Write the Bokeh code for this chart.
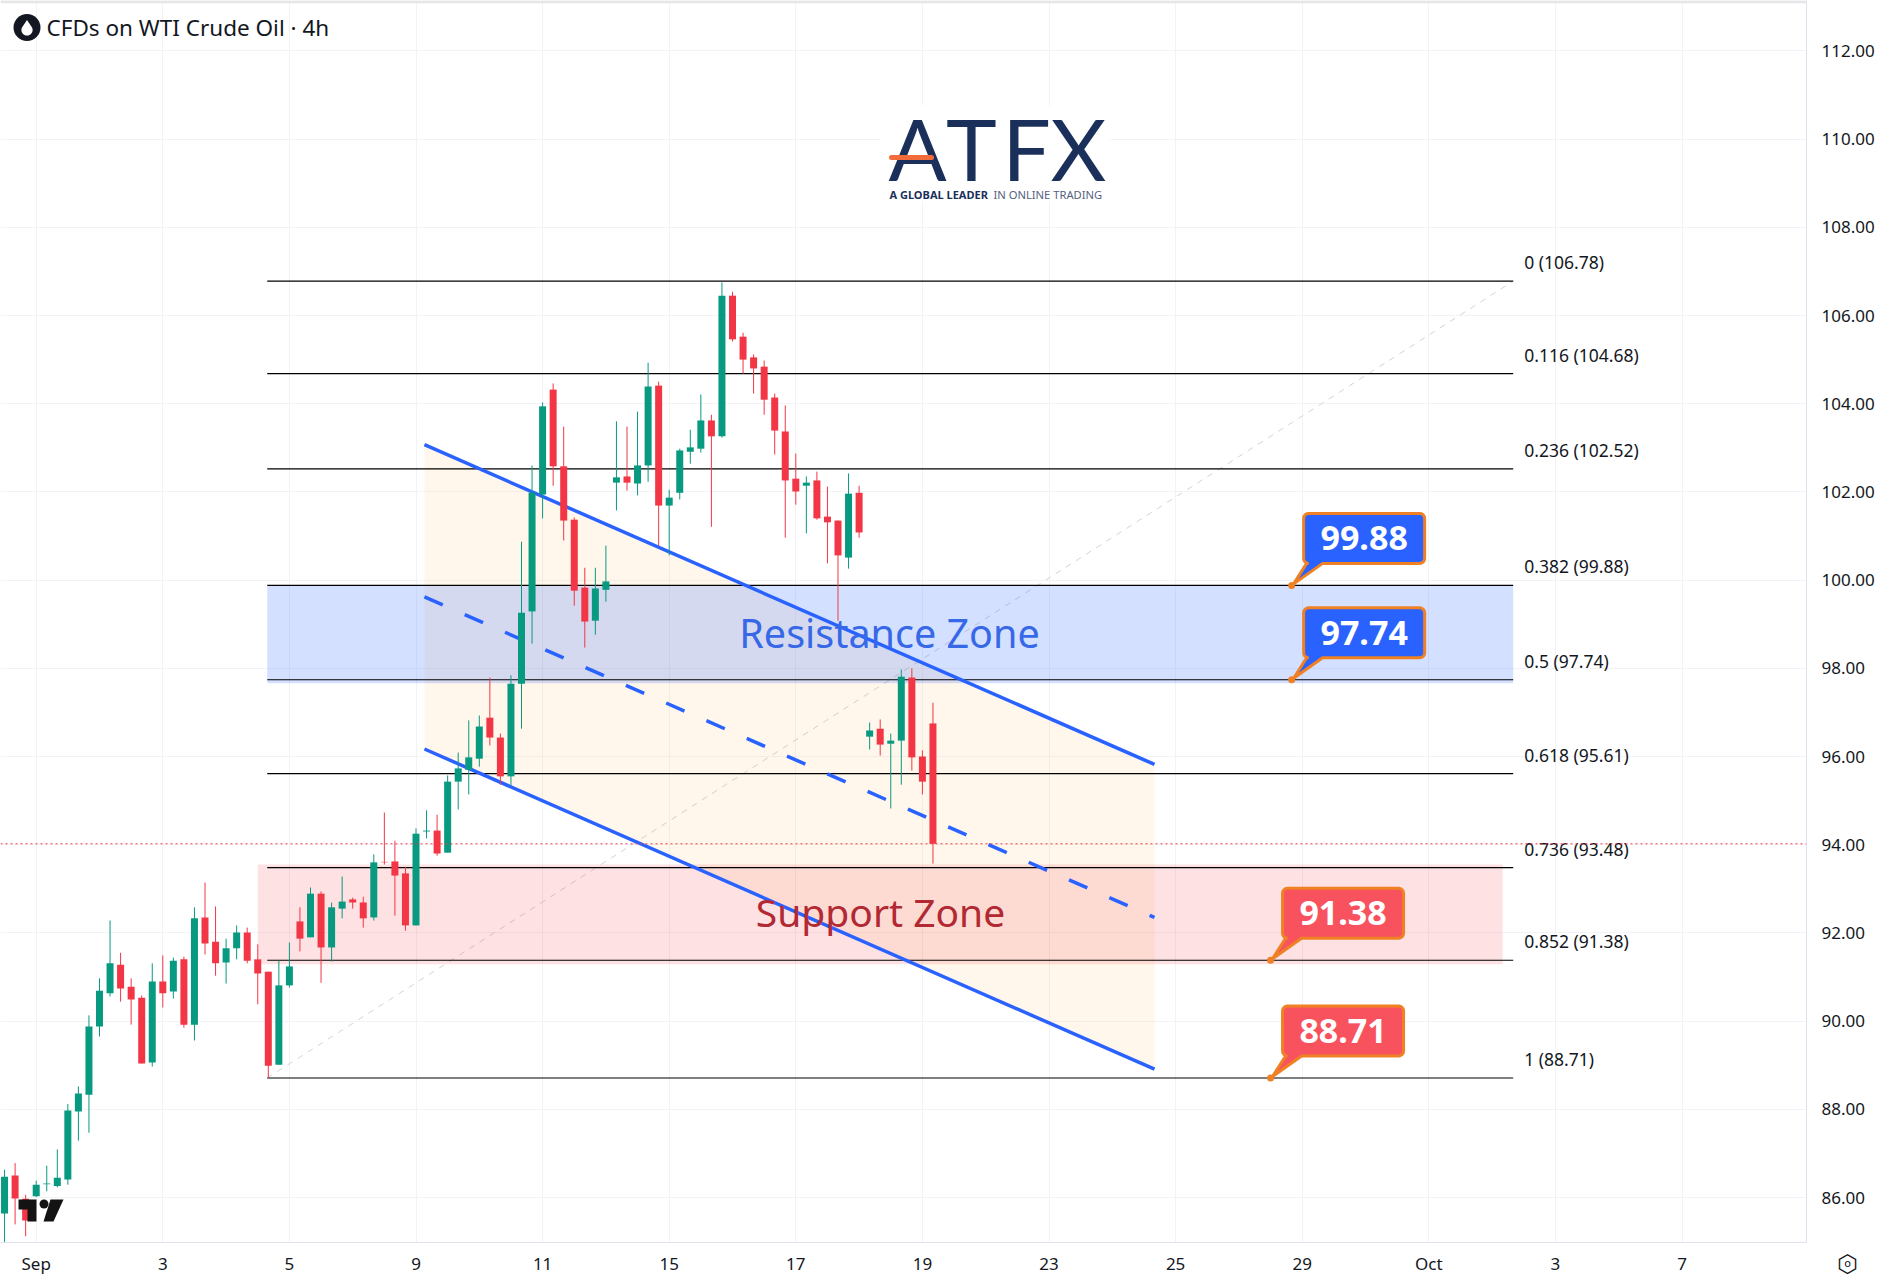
import numpy as np
from bokeh.plotting import figure
from bokeh.embed import file_html
from bokeh.resources import INLINE
from bokeh.core.properties import value
from bokeh.models import ColumnDataSource, FixedTicker, NumeralTickFormatter, Span, Label, BoxAnnotation

# ---------- data ----------
first_bar = -3
high = [86.63, 86.78, 86.06, 86.38, 86.72, 87.09, 88.12, 88.52, 90.13, 90.97,
        92.28, 91.55, 90.97, 90.58, 91.31, 91.49, 91.44, 91.46, 92.58, 93.14,
        92.60, 91.87, 92.17, 92.12, 91.74, 91.12, 91.37, 91.78, 92.58, 93.03,
        92.94, 92.69, 93.28, 92.80, 92.82, 93.78, 94.73, 94.09, 93.50, 94.37,
        94.78, 94.68, 95.57, 96.09, 96.82, 96.93, 97.79, 96.52, 97.84, 100.87,
        102.60, 104.03, 104.46, 103.48, 101.42, 100.28, 100.28, 100.78, 103.60, 103.48,
        103.82, 104.93, 104.50, 102.05, 102.98, 103.41, 104.21, 103.75, 106.75, 106.54,
        105.61, 105.12, 104.98, 104.23, 103.96, 102.87, 102.35, 102.46, 102.12, 101.35,
        102.42, 102.14, 96.77, 96.84, 96.52, 97.97, 98.00, 96.14, 97.22]
body_top = [86.47, 86.50, 85.97, 86.29, 86.32, 86.45, 87.97, 88.36, 89.88, 90.69,
            91.31, 91.28, 90.78, 90.53, 90.90, 90.90, 91.37, 91.40, 92.33, 92.35,
            91.80, 91.65, 92.01, 92.01, 91.40, 91.12, 90.81, 91.24, 92.26, 92.89,
            92.89, 92.58, 92.71, 92.76, 92.69, 93.60, 93.61, 93.62, 93.35, 94.25,
            94.32, 94.32, 95.43, 95.73, 95.98, 96.68, 96.88, 96.43, 97.65, 99.26,
            101.98, 103.94, 104.32, 102.58, 101.37, 99.83, 99.81, 99.97, 102.33, 102.35,
            102.60, 104.39, 104.41, 101.87, 102.94, 103.01, 103.62, 103.62, 106.45, 106.45,
            105.52, 105.05, 104.84, 104.14, 103.37, 102.30, 102.21, 102.26, 101.44, 101.35,
            101.96, 101.98, 96.59, 96.63, 96.36, 97.81, 97.79, 96.00, 96.75]
body_bottom = [85.64, 85.98, 85.48, 86.03, 86.30, 86.26, 86.41, 87.95, 88.33, 89.88,
               90.63, 90.74, 90.49, 89.04, 89.06, 90.63, 90.67, 89.92, 89.92, 91.76,
               91.31, 91.33, 91.65, 91.37, 91.08, 88.99, 89.01, 90.81, 91.87, 91.90,
               91.67, 91.67, 92.55, 92.69, 92.33, 92.35, 93.60, 93.30, 92.17, 92.17,
               94.30, 93.80, 93.82, 95.43, 95.70, 95.95, 96.43, 95.55, 95.55, 97.65,
               99.29, 101.94, 102.58, 101.35, 99.76, 99.06, 99.08, 99.78, 102.21, 102.21,
               102.19, 102.60, 101.69, 101.69, 101.98, 102.91, 102.98, 103.26, 103.26, 105.46,
               105.00, 104.80, 104.09, 103.39, 102.26, 102.01, 102.14, 101.40, 101.31, 100.56,
               100.51, 101.08, 96.45, 96.27, 96.29, 96.36, 95.98, 95.43, 94.02]
low = [84.98, 85.39, 85.12, 86.01, 86.14, 86.23, 86.29, 87.29, 87.47, 89.65,
       90.56, 90.44, 89.92, 89.04, 88.97, 90.31, 90.51, 89.85, 89.56, 91.51,
       91.03, 90.85, 91.40, 91.31, 90.38, 88.72, 89.01, 90.76, 91.58, 91.90,
       90.87, 91.35, 92.33, 92.55, 92.12, 92.28, 93.55, 92.39, 92.05, 92.17,
       94.14, 93.75, 93.82, 94.80, 95.14, 95.77, 96.25, 95.36, 95.34, 96.63,
       98.56, 101.40, 102.14, 100.90, 99.42, 98.47, 98.76, 99.51, 101.58, 102.03,
       101.92, 102.23, 100.78, 100.56, 101.83, 102.64, 102.89, 101.21, 103.23, 105.41,
       104.68, 104.23, 103.75, 102.85, 100.96, 101.71, 101.06, 101.37, 100.38, 99.08,
       100.26, 100.96, 96.16, 96.02, 94.82, 95.36, 95.68, 95.14, 93.57]
direction = list("grrggggggg" "grrrgrgrgr" "rggrrrggrg" "rggrrgrrrg" "grggggrrgg"
                 "ggrrrrgggr" "ggrggggrgr" "rrrrrrgrrr" "grgrggrrr")

price_ticks = [86, 88, 90, 92, 94, 96, 98, 100, 102, 104, 106, 108, 110, 112]
time_ticks = [0, 12, 24, 36, 48, 60, 72, 84, 96, 108, 120, 132, 144, 156]
time_labels = ["Sep", "3", "5", "9", "11", "15", "17", "19", "23", "25", "29", "Oct", "3", "7"]

fib_ratio = ["0", "0.116", "0.236", "0.382", "0.5", "0.618", "0.736", "0.852", "1"]
fib_price = [106.78, 104.68, 102.52, 99.88, 97.74, 95.61, 93.48, 91.38, 88.71]
fib_start, fib_end = 21.9, 140.0

channel_x = [36.8, 106.0]
channel_upper = [103.07, 95.82]
channel_mid = [99.62, 92.35]
channel_lower = [96.17, 88.91]

last_price = 94.02
resistance_zone = dict(left=21.9, right=140.0, top=99.88, bottom=97.66)
support_zone = dict(left=21.0, right=139.0, top=93.55, bottom=91.29)

callout_price = [99.88, 97.74, 91.38, 88.71]
callout_bar = [119.0, 119.0, 117.0, 117.0]
callout_fill = ["#2962ff", "#2962ff", "#f9525f", "#f9525f"]

# ---------- scales of the reference page ----------
PX_PER_BAR = 10.55
PX_PER_UNIT = 44.1
ORIGIN_X = 35.7   # pixel of bar 0
ORIGIN_Y = 1197.0 # pixel of price 86
FRAME_W, FRAME_H = 1806, 1242


def dx(px):
    return (np.asarray(px, dtype=float) - ORIGIN_X) / PX_PER_BAR


def dy(py):
    return 86 + (ORIGIN_Y - np.asarray(py, dtype=float)) / PX_PER_UNIT


p = figure(frame_width=FRAME_W, frame_height=FRAME_H, output_backend="svg", toolbar_location=None,
           x_range=(float(dx(0)), float(dx(FRAME_W))), y_range=(float(dy(FRAME_H)), float(dy(0))),
           y_axis_location="right", min_border_left=0, min_border_top=0, min_border_right=81,
           min_border_bottom=42, background_fill_color="white", border_fill_color="white")
p.outline_line_color = None

FONT = "Noto Sans"
AXIS = "#e0e3eb"
GRID = "#f2f3f6"
TXT = "#131722"

p.yaxis.ticker = FixedTicker(ticks=price_ticks)
p.yaxis.formatter = NumeralTickFormatter(format="0.00")
p.xaxis.ticker = FixedTicker(ticks=time_ticks)
p.xaxis.major_label_overrides = dict(zip(time_ticks, time_labels))
for ax in (p.xaxis[0], p.yaxis[0]):
    ax.axis_line_color = AXIS
    ax.major_tick_line_color = None
    ax.minor_tick_line_color = None
    ax.major_label_text_font = FONT
    ax.major_label_text_font_size = "17px"
    ax.major_label_text_color = TXT
p.yaxis.major_label_standoff = 9
p.xaxis.major_label_standoff = 3
p.xgrid.grid_line_color = GRID
p.ygrid.grid_line_color = GRID
p.xgrid.ticker = FixedTicker(ticks=time_ticks)
p.ygrid.ticker = FixedTicker(ticks=price_ticks)

# page decoration: top band, current price
p.add_layout(Span(location=float(dy(1.2)), dimension="width", line_color="#e6e6e8", line_width=3))
p.add_layout(Span(location=last_price, dimension="width", line_color="#f23645", line_width=1, line_dash="2 3"))

# white mask behind the brand logo
p.quad(left=[float(dx(880))], right=[float(dx(1110))], top=[float(dy(105))], bottom=[float(dy(201))],
       fill_color="white", line_color=None)

# fib diagonal
p.line([fib_start, fib_end], [fib_price[-1], fib_price[0]], line_color="#d4d4d4", line_width=1, line_dash="6 6")

# channel fill
p.patch(channel_x + channel_x[::-1], channel_upper + channel_lower[::-1], fill_color="#ff9800", fill_alpha=0.08, line_color=None)

# zones
p.quad(fill_color="#2962ff", fill_alpha=0.2, line_color=None, **{k: [v] for k, v in resistance_zone.items()})
p.quad(fill_color="#f23645", fill_alpha=0.15, line_color=None, **{k: [v] for k, v in support_zone.items()})

# fib levels
p.segment(x0=[fib_start] * 9, x1=[fib_end] * 9, y0=fib_price, y1=fib_price, line_color="#000000", line_width=1.2)
fib_text = [f"{r} ({v:.2f})" for r, v in zip(fib_ratio, fib_price)]
p.text(x=[fib_end] * 9, y=fib_price, text=fib_text, text_font=value(FONT), text_font_size="17.5px",
       text_color=TXT, text_align="left", text_baseline="middle", x_offset=11, y_offset=-19)

# channel lines
BLUE = "#2962ff"
p.line(channel_x, channel_upper, line_color=BLUE, line_width=3.5)
p.line(channel_x, channel_lower, line_color=BLUE, line_width=3.5)
p.line(channel_x, channel_mid, line_color=BLUE, line_width=3.5, line_dash="20 24")

# candles
bars = list(range(first_bar, first_bar + len(high)))
colors = ["#089981" if d == "g" else "#f23645" for d in direction]
src = ColumnDataSource(dict(x=bars, high=high, low=low, top=body_top, bottom=body_bottom, color=colors))
p.segment(x0="x", x1="x", y0="low", y1="high", line_color="color", line_width=1, source=src)
p.vbar(x="x", width=7 / PX_PER_BAR, top="top", bottom="bottom", fill_color="color", line_color=None, source=src)

# zone captions
p.text(x=[float(dx(889))], y=[float(dy(632))], text=["Resistance Zone"], text_font=value(FONT), text_font_size="39.5px",
       text_color="#3668e8", text_align="center", text_baseline="middle")
p.text(x=[float(dx(880))], y=[float(dy(911))], text=["Support Zone"], text_font=value(FONT), text_font_size="39px",
       text_color="#b22833", text_align="center", text_baseline="middle")


# callouts
def callout_path():
    """Outline of a rounded box with a pointer, in pixels relative to the pointer's tip."""
    l, r, t, b, rad = 12.0, 133.0, -72.0, -22.0, 5.0
    xs, ys = [], []
    for cx, cy, a0 in [(l + rad, t + rad, 180), (r - rad, t + rad, 270), (r - rad, b - rad, 0), (l + rad, b - rad, 90)]:
        for a in np.radians(np.linspace(a0, a0 + 90, 6)):
            xs.append(cx + rad * np.cos(a))
            ys.append(cy + rad * np.sin(a))
    # the last corner is followed by the pointer, in bottom edge order
    xs = xs[:18] + [31.0, 2.0, 15.0] + xs[18:]
    ys = ys[:18] + [b, -1.5, b] + ys[18:]
    return np.array(xs), np.array(ys)


px, py = callout_path()
for bar, price, fill in zip(callout_bar, callout_price, callout_fill):
    p.patch(bar + px / PX_PER_BAR, price - py / PX_PER_UNIT, fill_color=fill, line_color="#ef8124", line_width=3)
    p.scatter([bar], [price], size=7, marker="circle", fill_color="#ef8124", line_color=None)
    p.text(x=[bar + 72.5 / PX_PER_BAR], y=[price + 47 / PX_PER_UNIT], text=[f"{price:.2f}"], text_font=value(FONT),
           text_font_style="bold", text_font_size="34px", text_color="white", text_align="center", text_baseline="middle")

# header
p.scatter([float(dx(26.5))], [float(dy(27))], size=27, marker="circle", fill_color=TXT, line_color=None)
ang = np.radians(np.linspace(-30, 210, 24))
drop_x = np.concatenate([[26.5], 26.5 + 5.6 * np.cos(ang)])
drop_y = np.concatenate([[19.5], 29.5 + 5.6 * np.sin(ang)])
p.patch(dx(drop_x), dy(drop_y), fill_color="white", line_color=None)
p.text(x=[float(dx(46))], y=[float(dy(27))], text=["CFDs on WTI Crude Oil · 4h"], text_font=value(FONT), text_font_size="22.5px",
       text_color=TXT, text_align="left", text_baseline="middle")

# ATFX logo
NAVY = "#1b2f5b"
for ch, cx in zip("ATFX", [917, 971, 1026, 1078]):
    p.text(x=[float(dx(cx))], y=[float(dy(147))], text=[ch], text_font=value("Lato"), text_font_size="86px",
           text_color=NAVY, text_align="center", text_baseline="middle")
p.line(dx([891, 931]), dy([157, 157]), line_color="#f26b3a", line_width=5, line_cap="round")
p.text(x=[float(dx(889))], y=[float(dy(194))], text=["A GLOBAL LEADER"], text_font=value(FONT), text_font_style="bold",
       text_font_size="11px", text_color=NAVY, text_align="left", text_baseline="middle")
p.text(x=[float(dx(993))], y=[float(dy(194))], text=["IN ONLINE TRADING"], text_font=value(FONT),
       text_font_size="11.2px", text_color="#55617f", text_align="left", text_baseline="middle")

# TradingView mark
p.patch(dx([18, 36, 36, 27, 27, 18]), dy([1199, 1199, 1221, 1221, 1209, 1209]), fill_color="#131313", line_color=None)
p.scatter([float(dx(43.5))], [float(dy(1203.5))], size=9, marker="circle", fill_color="#131313", line_color=None)
p.patch(dx([50, 63, 53, 43]), dy([1199, 1199, 1221, 1221]), fill_color="#131313", line_color=None)

# separator and settings mark under the price axis, placed in the panel below the frame
p.add_layout(Label(x=1847, y=1263, x_units="canvas", y_units="canvas", text="⬡", text_font="DejaVu Sans", text_font_size="24px",
                   text_color=TXT, text_align="center", text_baseline="middle"), "below")
p.add_layout(Label(x=1847, y=1263, x_units="canvas", y_units="canvas", text="o", text_font="DejaVu Sans", text_font_size="11px",
                   text_color=TXT, text_align="center", text_baseline="middle"), "below")

open("out.html", "w").write(file_html(p, INLINE))
